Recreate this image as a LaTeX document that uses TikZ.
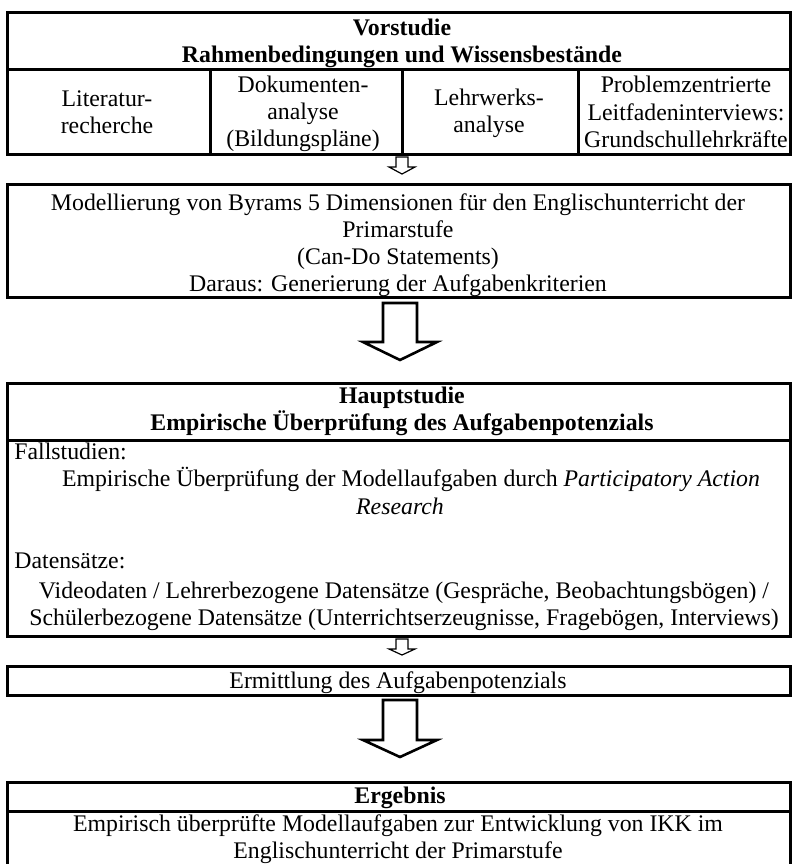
\documentclass[tikz,border=0pt]{standalone}
\usepackage{fontspec}
\setmainfont{Liberation Serif}
\usetikzlibrary{fit}
\begin{document}
\begin{tikzpicture}[x=0.5pt,y=-0.5pt,
  box/.style={draw, line width=1.5pt, inner sep=0pt},
  sep/.style={line width=1.5pt},
  txt/.style={font=\fontsize{11.9}{13.6}\selectfont, align=center, inner sep=0pt},
  hdr/.style={font=\fontsize{11.9}{13.6}\selectfont\bfseries, align=center, inner sep=0pt},
  lft/.style={font=\fontsize{11.9}{13.6}\selectfont, anchor=west, inner sep=0pt},
  bigarrow/.style={draw, line width=1.3pt, line join=miter, fill=white},
  smallarrow/.style={draw, line width=0.6pt, line join=miter, fill=white}]
\useasboundingbox (0,0) rectangle (795,864);

% Box 1: Vorstudie
\node[box, fit={(7,12) (790,154)}] (vor) {};
\draw[sep] (7,69) -- (790,69);
\draw[sep] (210,69) -- (210,154);
\draw[sep] (402,69) -- (402,154);
\draw[sep] (578,69) -- (578,154);
\node[hdr] (vorh) at (402,43) {Vorstudie\\Rahmenbedingungen und Wissensbestände};
\node[txt] (lit) at (107,112) {Literatur-\\recherche};
\node[txt] (dok) at (303,114) {Dokumenten-\\analyse\\(Bildungspläne)};
\node[txt] (lehr) at (489,113) {Lehrwerks-\\analyse};
\node[txt] (prob) at (686,112) {Problemzentrierte\\Leitfadeninterviews:\\Grundschullehrkräfte};

% Box 2: Modellierung
\node[box, fit={(7,184) (790,297)}] (mod) {};
\node[txt] (modt) at (398,245) {Modellierung von Byrams 5 Dimensionen für den Englischunterricht der\\Primarstufe\\(Can-Do Statements)\\Daraus: Generierung der Aufgabenkriterien};

% small arrow 1
\coordinate (a1) at (402,157);
\draw[smallarrow] (a1) ++(-6,0) -- ++(12,0) -- ++(0,10) -- ++(7,0) -- ++(-13,7) -- ++(-13,-7) -- ++(7,0) -- cycle;

% big arrow 1
\coordinate (b1) at (400,303);
\draw[bigarrow] (b1) ++(-17,0) -- ++(34,0) -- ++(0,39) -- ++(20,0) -- ++(-37,18) -- ++(-37,-18) -- ++(20,0) -- cycle;

% Box 3: Hauptstudie
\node[box, fit={(7,383) (790,636)}] (haupt) {};
\draw[sep] (7,440) -- (790,440);
\node[hdr] (haupth) at (402,411) {Hauptstudie\\Empirische Überprüfung des Aufgabenpotenzials};
\node[lft] (fall) at (14,451) {Fallstudien:};
\node[txt] (fallt1) at (411,479) {Empirische Überprüfung der Modellaufgaben durch \textit{Participatory Action}};
\node[txt] (fallt2) at (400,506) {\textit{Research}};
\node[lft] (dat) at (14,561) {Datensätze:};
\node[txt] (datt) at (404,606) {Videodaten / Lehrerbezogene Datensätze (Gespräche, Beobachtungsbögen) /\\Schülerbezogene Datensätze (Unterrichtserzeugnisse, Fragebögen, Interviews)};

% small arrow 2
\coordinate (a2) at (402,639);
\draw[smallarrow] (a2) ++(-6,0) -- ++(12,0) -- ++(0,10) -- ++(7,0) -- ++(-13,6) -- ++(-13,-6) -- ++(7,0) -- cycle;

% Box 4: Ermittlung
\node[box, fit={(7,666) (790,695)}] (erm) {};
\node[txt] (ermt) at (398,683) {Ermittlung des Aufgabenpotenzials};

% big arrow 2
\coordinate (b2) at (400,700);
\draw[bigarrow] (b2) ++(-17,0) -- ++(34,0) -- ++(0,40) -- ++(20,0) -- ++(-37,17) -- ++(-37,-17) -- ++(20,0) -- cycle;

% Box 5: Ergebnis (continues beyond the lower edge)
\coordinate (e1) at (7,864);
\coordinate (e2) at (790,864);
\draw[sep] (e1) -- (7,782) -- (790,782) -- (e2);
\draw[sep] (7,811) -- (790,811);
\node[hdr] (ergh) at (400,798) {Ergebnis};
\node[txt] (ergt) at (398,839) {Empirisch überprüfte Modellaufgaben zur Entwicklung von IKK im\\Englischunterricht der Primarstufe};
\end{tikzpicture}
\end{document}
